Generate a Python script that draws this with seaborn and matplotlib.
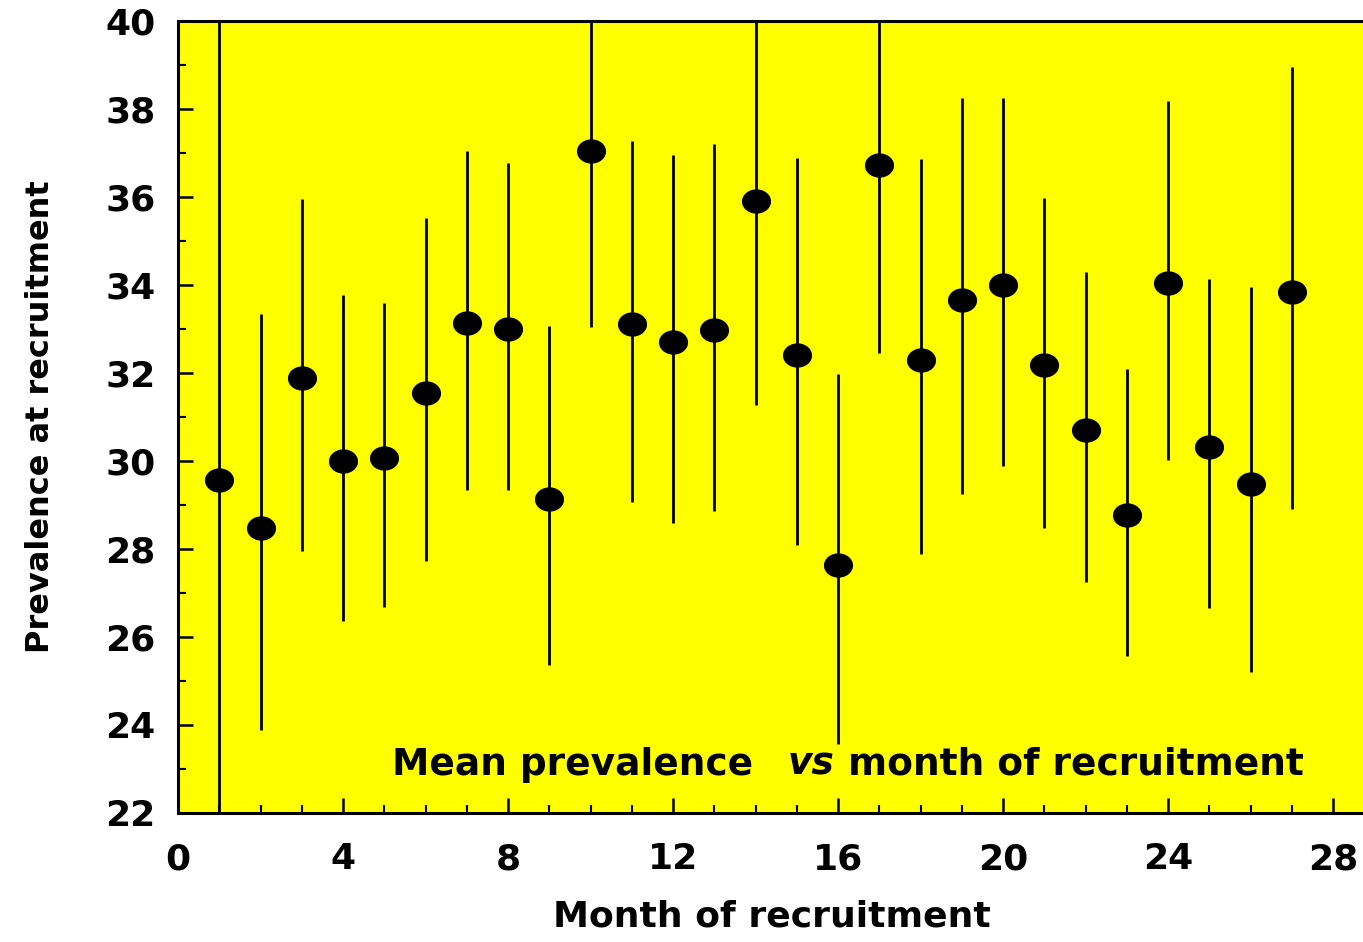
import numpy as np
import pandas as pd
import matplotlib
matplotlib.use("Agg")
import matplotlib.pyplot as plt
from matplotlib.path import Path
from matplotlib.ticker import MultipleLocator
from matplotlib.transforms import offset_copy
import seaborn as sns

months = list(range(1, 28))
prevalence = [29.57, 28.48, 31.89, 30.0, 30.07, 31.55, 33.14, 33.0, 29.14, 37.05,
              33.11, 32.7, 32.98, 35.9, 32.41, 27.64, 36.73, 32.3, 33.66, 34.0,
              32.18, 30.7, 28.77, 34.05, 30.32, 29.48, 33.84]
upper = [41.5, 33.34, 35.95, 33.77, 33.59, 35.52, 37.05, 36.77, 33.07, 41.1,
         37.27, 36.95, 37.2, 40.5, 36.89, 31.98, 41.0, 36.86, 38.25, 38.25,
         35.98, 34.3, 32.09, 38.18, 34.14, 33.95, 38.95]
lower = [17.6, 23.89, 27.95, 26.36, 26.68, 27.73, 29.34, 29.34, 25.36, 33.05,
         29.07, 28.59, 28.86, 31.27, 28.09, 23.57, 32.45, 27.89, 29.25, 29.89,
         28.48, 27.25, 25.57, 30.02, 26.66, 25.2, 28.91]

df = pd.DataFrame({"month": months, "prev": prevalence, "lo": lower, "hi": upper})

sns.set_theme(style="white")
plt.rcParams['font.family'] = ['DejaVu Sans']
plt.rcParams['text.color'] = 'black'
plt.rcParams['axes.labelcolor'] = 'black'

W, H = 1363, 942
fig = plt.figure(figsize=(W / 100, H / 100), dpi=100)
left, right, top, bottom = 178, 1363 + 2, 21, 813
ax = fig.add_axes([left / W, 1 - bottom / H, (right - left) / W, (bottom - top) / H])
ax.set_facecolor("#ffff00")

xmax = (right - left) / 41.25
ax.set_xlim(0, xmax)
ax.set_ylim(22, 40)

ax.vlines(df["month"], df["lo"], df["hi"], color="black", linewidth=2.0, zorder=2)

# ellipse marker (slightly wider than tall)
t = np.linspace(0, 2 * np.pi, 60)
ell = Path(np.column_stack([1.2 * np.cos(t), np.sin(t)]), closed=True)
sns.scatterplot(data=df, x="month", y="prev", marker=ell, s=440, color="black",
                edgecolor="black", linewidth=0, ax=ax, zorder=3, legend=False)

for s in ["left", "bottom", "top"]:
    ax.spines[s].set_visible(True)
    ax.spines[s].set_color("black")
    ax.spines[s].set_linewidth(2.2)
ax.spines["right"].set_visible(False)

ax.xaxis.set_major_locator(MultipleLocator(4))
ax.xaxis.set_minor_locator(MultipleLocator(1))
ax.yaxis.set_major_locator(MultipleLocator(2))
ax.yaxis.set_minor_locator(MultipleLocator(1))
ax.tick_params(axis="both", which="major", direction="in", length=11, width=1.8,
               color="black", labelsize=26, labelcolor="black")
ax.tick_params(axis="both", which="minor", direction="in", length=6, width=1.5,
               color="black")
ax.tick_params(axis="x", which="major", pad=21)
ax.tick_params(axis="y", which="major", pad=16)
ax.tick_params(top=False, right=False, bottom=True, left=True, which="both")
for lab in ax.get_xticklabels() + ax.get_yticklabels():
    lab.set_fontweight("heavy")

ax.set_xlabel("Month of recruitment", fontsize=26, fontweight="heavy", labelpad=17)
ax.set_ylabel("Prevalence at recruitment", fontsize=23, fontweight="heavy", labelpad=36)

# annotation with italic "vs", pieces placed one after another
fig.canvas.draw()
renderer = fig.canvas.get_renderer()
pieces = [("Mean prevalence", "normal", 34), ("vs", "italic", 14),
          ("month of recruitment", "normal", 0)]
fs = 27
x_px = 0.0
trans = ax.transData
for txt, sty, gap in pieces:
    tobj = ax.text(5.2, 23.1, txt, fontsize=fs, fontweight="heavy", style=sty,
                   ha="left", va="center", color="black",
                   transform=offset_copy(trans, fig=fig, x=x_px, y=0, units="dots"))
    bb = tobj.get_window_extent(renderer=renderer)
    x_px += bb.width + gap

fig.savefig("out.png", dpi=100, facecolor="white")
